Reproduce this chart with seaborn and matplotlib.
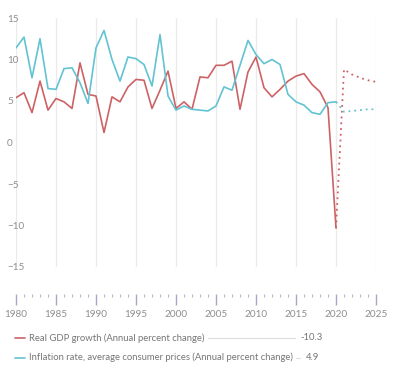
import matplotlib
matplotlib.use("Agg")
import matplotlib.pyplot as plt
from matplotlib.lines import Line2D
import seaborn as sns
import pandas as pd

years = list(range(1980, 2021))
gdp = [5.4, 6.0, 3.6, 7.4, 3.9, 5.3, 4.9, 4.1, 9.6, 5.8,
       5.6, 1.2, 5.5, 4.9, 6.7, 7.6, 7.5, 4.1, 6.3, 8.6,
       4.1, 4.9, 4.0, 7.9, 7.8, 9.3, 9.3, 9.8, 4.0, 8.5,
       10.3, 6.6, 5.5, 6.4, 7.4, 8.0, 8.3, 7.0, 6.1, 4.2,
       -10.3]
inflation = [11.4, 12.7, 7.8, 12.5, 6.5, 6.4, 8.9, 9.0, 7.2, 4.7,
             11.4, 13.5, 10.0, 7.4, 10.3, 10.1, 9.4, 6.8, 13.0, 5.6,
             3.9, 4.4, 4.0, 3.9, 3.8, 4.4, 6.7, 6.3, 9.3, 12.3,
             10.6, 9.5, 10.0, 9.4, 5.8, 4.9, 4.5, 3.6, 3.4, 4.8,
             4.9]
proj_years = [2020, 2021, 2022, 2023, 2024, 2025]
gdp_proj = [-10.3, 8.8, 8.2, 7.8, 7.5, 7.3]
inflation_proj = [4.9, 3.7, 3.8, 3.9, 4.0, 4.0]

series_names = ["Real GDP growth (Annual percent change)",
                "Inflation rate, average consumer prices (Annual percent change)"]
colors = ["#cd6266", "#62c3d2"]
y_ticks = [-15, -10, -5, 0, 5, 10, 15]
x_ticks = list(range(1980, 2026, 5))

sns.set_style("white")
plt.rcParams["font.family"] = ["Lato", "DejaVu Sans"]

W, H = 395, 373
fig = plt.figure(figsize=(W / 100, H / 100), dpi=100)
ax = fig.add_axes([16 / W, 1 - 267 / H, 360 / W, 249 / H])

hist = pd.DataFrame({
    "year": years * 2,
    "value": gdp + inflation,
    "series": [series_names[0]] * len(years) + [series_names[1]] * len(years),
})
proj = pd.DataFrame({
    "year": proj_years * 2,
    "value": gdp_proj + inflation_proj,
    "series": [series_names[0]] * len(proj_years) + [series_names[1]] * len(proj_years),
})
pal = dict(zip(series_names, colors))
sns.lineplot(data=hist, x="year", y="value", hue="series", palette=pal,
             lw=1.2, legend=False, ax=ax)
sns.lineplot(data=proj, x="year", y="value", hue="series", palette=pal,
             lw=1.3, linestyle=(0, (1, 2.2)), legend=False, ax=ax)

ax.set_xlim(1980, 2025)
ax.set_ylim(-15, 15)
ax.set_xticks(x_ticks)
ax.set_yticks(y_ticks)
ax.set_xlabel("")
ax.set_ylabel("")
ax.grid(axis="x", color="#ebebeb", lw=1.0)
ax.grid(axis="y", visible=False)
ax.set_axisbelow(True)
for s in ax.spines.values():
    s.set_visible(False)
ax.tick_params(axis="x", length=0, labelbottom=False)
ax.tick_params(axis="y", length=0, pad=6.5, labelsize=7.2, labelcolor="#8f8f8f")
for lab in ax.get_yticklabels():
    lab.set_horizontalalignment("left")

# bottom year tick band
ax2 = fig.add_axes([16 / W, 1 - 305 / H, 360 / W, 11 / H])
ax2.set_xlim(1980, 2025)
ax2.set_ylim(0, 1)
ax2.set_yticks([])
ax2.set_xticks(x_ticks)
ax2.set_xticks(list(range(1980, 2026)), minor=True)
for s in ax2.spines.values():
    s.set_visible(False)
ax2.patch.set_alpha(0)
ax2.tick_params(axis="x", which="major", top=True, bottom=False, direction="in",
                length=8, width=1.0, color="#a9a7c4", labeltop=False,
                labelbottom=True, pad=3.5, labelsize=7.2, labelcolor="#8f8f8f")
ax2.tick_params(axis="x", which="minor", top=True, bottom=False, direction="in",
                length=2, width=0.8, color="#b8b6cc")

# legend
fs = 6.8
rows = [(338, series_names[0], colors[0], gdp[-1], 208, 295, 300),
        (357.5, series_names[1], colors[1], inflation[-1], 296, 300, 306)]
for y, name, col, val, r0, r1, vx in rows:
    yf = 1 - y / H
    fig.add_artist(Line2D([15 / W, 25 / W], [yf, yf], color=col, lw=1.2))
    fig.text(29 / W, yf, name, fontsize=fs, color="#767676", va="center", ha="left")
    fig.add_artist(Line2D([r0 / W, r1 / W], [yf, yf], color="#dedede", lw=0.8))
    fig.text(vx / W, yf, f"{val:g}", fontsize=fs, color="#767676", va="center", ha="left")

fig.savefig("out.png", dpi=100)
